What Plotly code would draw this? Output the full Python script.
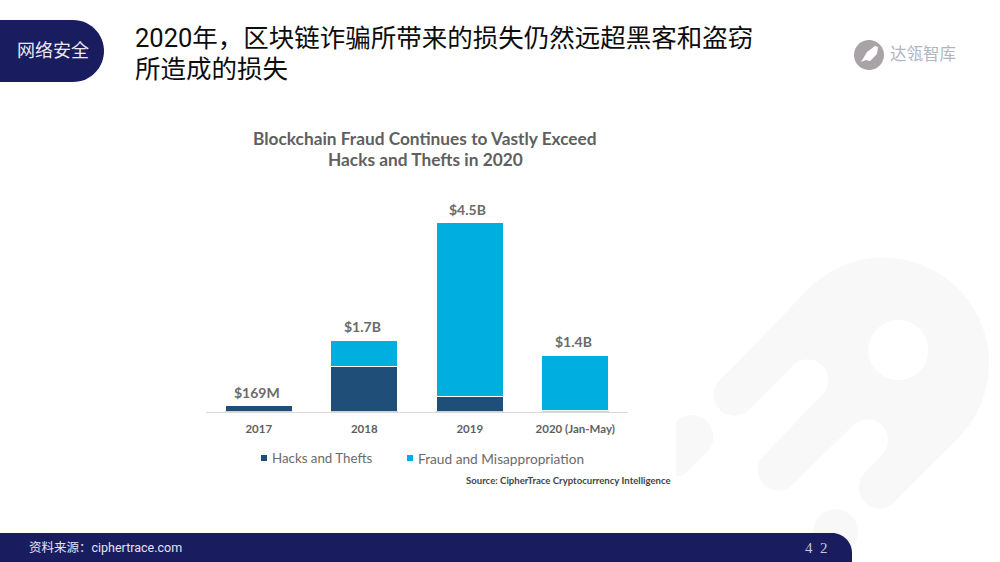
import numpy as np
import plotly.graph_objects as go

categories = ["2017", "2018", "2019", "2020 (Jan-May)"]
hacks_thefts = [0.14, 1.07, 0.35, 0.02]
fraud_misappropriation = [0.0, 0.63, 4.15, 1.32]
total_labels = ["$169M", "$1.7B", "$4.5B", "$1.4B"]
series_names = ["Hacks and Thefts", "Fraud and Misappropriation"]

W, H = 1000, 562
NAVY = "#1a1c60"
DARK = "#1f4e79"
CYAN = "#00aedf"
GREY = "#6b6b6b"
GHOST = "#f8f8f8"
CJK = "Roboto, Noto Sans CJK SC"


def P(x, y):
    return x / W, 1 - y / H


def arc(cx, cy, r, a0, a1, n=40):
    return [(cx + r * np.cos(t), cy + r * np.sin(t)) for t in np.radians(np.linspace(a0, a1, n))]


def path(points):
    pts = [P(x, y) for x, y in points]
    return "M" + "L".join(f"{x:.5f},{y:.5f}" for x, y in pts) + "Z"


def zoomed(points):
    return [(640 + x / 3, 220 + y / 3) for x, y in points]


def shape(points, color):
    return dict(type="path", xref="paper", yref="paper", path=path(points),
                fillcolor=color, line=dict(width=0), layer="below")


ghost_body = zoomed(
    arc(283, 525, 62, 225, 45, 24)
    + arc(503, 480, 62, 225, 405, 24)
    + arc(415, 750, 62, 225, 45, 24)
    + arc(682, 660, 62, 225, 405, 24)
    + arc(718, 803, 62, 225, 45, 24)
    + arc(730, 430, 317, 44, -133, 80)
)
hole = zoomed(arc(775, 390, 90, 135, 495, 48))
drop = zoomed([(108, 770), (108, 605)] + arc(155, 650, 65, 225, 405, 24) + [(130, 765)])
dot = zoomed(arc(587, 935, 67, 0, 360, 48))
badge = [(0, 20), (72, 20)] + arc(73, 51, 31, -90, 90, 30) + [(0, 82)]
footer = [(0, 533), (832, 533)] + arc(832, 553, 20, -90, 0, 16) + [(852, 562), (0, 562)]
logo = arc(869, 55, 15, 0, 360, 48)
rocket = [(861, 62), (867, 52), (875, 46), (878, 47), (877, 54), (870, 61), (866, 60)]

shapes = [
    shape(ghost_body, GHOST),
    shape(hole, "#ffffff"),
    shape(drop, GHOST),
    shape(dot, GHOST),
    shape(badge, NAVY),
    shape(footer, NAVY),
    shape(logo, "#a9a3a7"),
    shape(rocket, "#ffffff"),
    shape([(261, 455), (267, 455), (267, 461), (261, 461)], DARK),
    shape([(407, 455), (413, 455), (413, 461), (407, 461)], CYAN),
]


def text(x, y, s, size, color, family=CJK, anchor="left"):
    return dict(xref="paper", yref="paper", x=x / W, y=1 - y / H, text=s, showarrow=False,
                xanchor=anchor, yanchor="middle", align=anchor,
                font=dict(family=family, size=size, color=color))


annotations = [
    text(53, 50, "网络安全", 18, "#e8e8f2", anchor="center"),
    text(133, 38, "2020年，区块链诈骗所带来的损失仍然远超黑客和盗窃", 25.5, "#0d0d0d"),
    text(133, 69, "所造成的损失", 25.5, "#0d0d0d"),
    text(888, 55, "达瓴智库", 16.5, "#b2b4c4"),
    text(425, 138, "<b>Blockchain Fraud Continues to Vastly Exceed</b>", 17.3, "#5f5f5f", "Lato", "center"),
    text(425, 160, "<b>Hacks and Thefts in 2020</b>", 17.3, "#5f5f5f", "Lato", "center"),
    text(270, 458, series_names[0], 13.3, GREY, "Lato"),
    text(416, 458, series_names[1], 13.7, GREY, "Lato"),
    text(673, 480, "<b>Source: CipherTrace Cryptocurrency Intelligence</b>", 9.6, "#454545", "Lato", "right"),
    text(27, 547, "资料来源：ciphertrace.com", 12.5, "#e4e4ee"),
    text(816, 548, "4\u00a0\u00a02", 15, "#c8c8d6", "Liberation Serif", "center"),
]

fig = go.Figure()
fig.add_bar(x=categories, y=hacks_thefts, name=series_names[0],
            marker=dict(color=DARK, line=dict(color="#ffffff", width=1)))
fig.add_bar(x=categories, y=fraud_misappropriation, name=series_names[1],
            marker=dict(color=CYAN, line=dict(color="#ffffff", width=1)))

base = 411.5
top = 190
fig.update_layout(
    width=W, height=H, margin=dict(l=0, r=0, t=0, b=0), autosize=False,
    paper_bgcolor="#ffffff", plot_bgcolor="rgba(0,0,0,0)",
    barmode="stack", bargap=0.365, showlegend=False,
    shapes=shapes, annotations=annotations,
    xaxis=dict(domain=[206 / W, 628 / W], type="category", categoryorder="array",
               categoryarray=categories, range=[-0.5, len(categories) - 0.5],
               showline=True, linecolor="#d9d9d9", linewidth=1,
               ticks="outside", ticklen=7, tickcolor="rgba(0,0,0,0)",
               showgrid=False, zeroline=False,
               tickfont=dict(family="Lato", size=11.5, color="#5f5f5f", weight="bold")),
    yaxis=dict(domain=[1 - base / H, 1 - top / H], range=[0, (base - top) / 42], visible=False),
)
for i, (h, f, lab) in enumerate(zip(hacks_thefts, fraud_misappropriation, total_labels)):
    fig.add_annotation(x=i, y=h + f, xref="x", yref="y", text=f"<b>{lab}</b>", showarrow=False,
                       yanchor="bottom", yshift=3, xshift=-2,
                       font=dict(family="Lato", size=14, color=GREY))

fig.write_html("out.html", config={"displayModeBar": False, "responsive": False},
               post_script="document.body.style.margin='0';document.body.style.overflow='hidden';")
